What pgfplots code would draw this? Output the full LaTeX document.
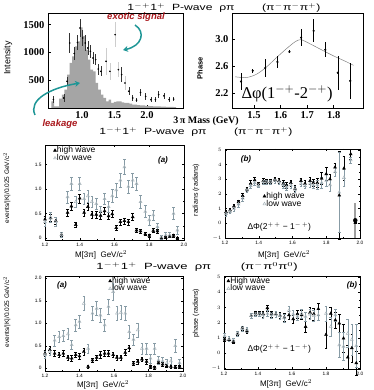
\documentclass[border=0pt]{standalone}
\usepackage{fontspec}
\setmainfont{Liberation Sans}
\newfontfamily\tnr{Liberation Serif}
\usepackage{graphicx}
\usepackage{pgfplots}
\usepackage{pgfplotstable}
\pgfplotsset{compat=1.18}
\usetikzlibrary{arrows.meta}

\definecolor{histgray}{RGB}{165,165,165}
\definecolor{lowgray}{RGB}{135,155,165}
\definecolor{lowmark}{RGB}{170,182,188}
\definecolor{exgray}{RGB}{205,205,205}
\definecolor{arrowteal}{RGB}{30,150,150}
\definecolor{sigred}{RGB}{170,25,30}

% leakage histogram, left bin edges (last row closes the interval)
\pgfplotstableread{
x    n
0.53 120
0.57 30
0.61 30
0.65 170
0.69 240
0.73 330
0.77 600
0.81 810
0.85 930
0.89 1110
0.93 1200
0.97 1450
1.01 1300
1.05 1050
1.09 870
1.13 690
1.17 660
1.21 450
1.25 330
1.29 240
1.33 180
1.37 120
1.41 150
1.45 90
1.49 110
1.53 120
1.57 120
1.61 100
1.65 90
1.69 90
1.73 80
1.77 60
1.81 60
1.85 50
1.89 45
1.93 45
1.97 40
2.01 40
2.05 35
2.09 30
2.13 30
2.17 30
2.21 25
2.25 25
2.29 20
2.33 20
2.37 20
2.41 15
2.45 0
}\histtab

% intensity points, dark error bars
\pgfplotstableread{
x    y    e
0.56 150  60
0.72 180  70
0.77 480  80
0.81 1170 180
0.88 980  120
0.93 1180 130
0.97 1440 160
1.01 1260 150
1.05 1170 140
1.09 1080 130
1.13 1020 120
1.17 900  110
1.21 870  100
1.25 700  100
1.29 660  90
1.61 600  140
1.72 300  70
1.78 180  50
1.84 140  40
1.90 280  60
1.98 210  60
2.06 150  40
2.13 150  40
2.18 240  60
2.26 220  50
2.34 150  40
2.41 160  40
}\intdark

% intensity points, light error bars (exotic signal)
\pgfplotstableread{
x    y    e
1.37 840  240
1.43 660  150
1.51 1320 230
1.56 690  130
1.66 450  130
}\intlight

% phase difference 1-+ vs 2-+
\pgfplotstableread{
x     y    e
1.451 2.37 0.12
1.495 2.53 0.03
1.542 2.57 0.13
1.588 2.66 0.09
1.633 2.81 0.02
1.677 3.02 0.13
1.724 3.12 0.17
1.768 2.84 0.11
1.815 2.50 0.25
1.862 2.38 0.27
}\phasetab

% (a) pi- pi- pi+
\pgfplotstableread{
m     hi   ehi  lo   elo
1.200 0.38 0.07 0.33 0.08
1.232 0.41 0.07 0.42 0.10
1.262 0.35 0.07 0.33 0.09
1.295 0.07 0.04 0.06 0.05
1.330 0.52 0.07 0.84 0.12
1.352 0.65 0.08 1.11 0.13
1.377 0.27 0.05 0.74 0.12
1.400 0.81 0.09 1.11 0.14
1.425 0.52 0.07 0.80 0.12
1.447 0.64 0.08 0.86 0.12
1.470 0.48 0.07 0.74 0.11
1.495 0.48 0.07 0.70 0.11
1.520 0.46 0.07 0.55 0.10
1.543 0.55 0.07 0.80 0.12
1.566 0.45 0.07 0.64 0.11
1.587 0.49 0.07 0.86 0.13
1.610 0.21 0.06 0.98 0.14
1.634 0.33 0.06 1.18 0.14
1.657 0.35 0.06 1.45 0.15
1.680 0.33 0.06 1.05 0.14
1.705 0.43 0.07 1.18 0.14
1.727 0.16 0.04 1.11 0.14
1.750 0.14 0.04 0.74 0.13
1.777 0.08 0.03 0.54 0.12
1.800 0.05 0.03 0.37 0.10
1.823 0.15 0.04 0.47 0.10
1.847 0.14 0.04 0.23 0.08
1.870 0.00 0.02 0.02 0.04
1.895 0.01 0.02 0.06 0.05
1.918 0.03 0.02 0.06 0.05
1.940 0.05 0.03 0.50 0.12
1.962 0.00 0.02 0.16 0.08
}\tabA

% (b) pi- pi- pi+
\pgfplotstableread{
m     hi   ehi  lo   elo
1.206 0.77 0.12 0.65 0.15
1.230 0.89 0.12 0.80 0.15
1.253 1.16 0.15 1.00 0.15
1.280 1.45 0.15 1.30 0.18
1.305 1.86 0.15 1.70 0.18
1.330 2.30 0.12 2.25 0.12
1.352 2.70 0.20 2.55 0.20
1.376 2.93 0.20 2.75 0.15
1.398 2.66 0.12 2.55 0.12
1.427 2.88 0.15 2.80 0.12
1.447 2.84 0.12 2.80 0.12
1.470 2.84 0.12 2.80 0.12
1.496 2.98 0.15 2.90 0.15
1.520 2.88 0.15 2.80 0.15
1.545 2.70 0.20 2.60 0.20
1.565 2.59 0.20 2.45 0.20
1.590 2.75 0.20 2.60 0.20
1.615 2.36 0.20 2.30 0.20
1.650 2.88 0.20 2.70 0.20
1.674 2.70 0.20 2.55 0.20
1.704 2.88 0.25 2.70 0.25
1.723 2.75 0.25 2.60 0.25
1.747 2.75 0.30 2.60 0.30
1.773 3.05 0.40 2.75 0.35
1.800 3.35 0.45 2.90 0.40
1.822 3.00 0.35 2.60 0.40
1.852 3.80 0.30 3.50 0.30
1.877 1.90 3.00 2.10 2.70
1.905 3.73 0.80 3.10 0.60
1.945 4.70 0.35 4.30 0.20
}\tabB

% (a) pi- pi0 pi0
\pgfplotstableread{
m     hi   ehi  lo   elo
1.200 0.33 0.07 0.30 0.08
1.228 0.41 0.07 0.37 0.08
1.256 0.33 0.07 0.62 0.12
1.282 0.30 0.06 0.70 0.12
1.306 0.33 0.06 0.72 0.12
1.333 0.24 0.06 0.76 0.12
1.355 0.22 0.06 0.52 0.10
1.378 0.30 0.06 0.96 0.14
1.400 0.27 0.06 1.04 0.14
1.425 0.37 0.07 1.44 0.16
1.450 0.04 0.03 0.44 0.10
1.475 0.18 0.05 1.22 0.15
1.500 0.24 0.06 1.33 0.15
1.521 0.30 0.07 1.18 0.15
1.546 0.33 0.07 0.96 0.14
1.568 0.33 0.07 1.37 0.16
1.595 0.30 0.06 1.70 0.18
1.617 0.24 0.06 1.22 0.16
1.640 0.24 0.06 1.24 0.16
1.665 0.35 0.07 1.22 0.16
1.688 0.45 0.07 0.81 0.14
1.713 0.11 0.04 0.64 0.12
1.738 0.15 0.05 0.85 0.15
1.762 0.20 0.05 0.44 0.12
1.789 0.15 0.05 0.44 0.12
1.812 0.04 0.03 0.22 0.10
1.836 0.02 0.03 0.44 0.12
1.858 0.12 0.04 0.18 0.08
1.882 0.09 0.04 0.16 0.08
1.906 0.05 0.03 0.12 0.07
1.930 0.04 0.03 0.16 0.08
1.955 0.03 0.03 0.50 0.14
1.980 0.04 0.03 0.12 0.07
}\tabC

% (b) pi- pi0 pi0
\pgfplotstableread{
m     hi    ehi  lo   elo
1.204 0.91  0.12 1.15 0.15
1.230 0.89  0.12 0.95 0.15
1.255 0.76  0.12 0.85 0.15
1.280 1.30  0.12 1.30 0.15
1.308 1.65  0.15 1.60 0.15
1.335 1.45  0.15 1.55 0.15
1.360 2.46  0.15 2.45 0.15
1.385 2.63  0.15 2.55 0.15
1.408 2.60  0.15 2.55 0.15
1.430 2.57  0.20 2.50 0.20
1.455 2.96  0.20 2.60 0.20
1.480 2.57  0.20 2.50 0.20
1.505 2.57  0.20 2.55 0.20
1.530 2.46  0.20 2.45 0.20
1.555 2.35  0.25 2.30 0.25
1.582 2.50  0.25 2.80 0.25
1.607 2.24  0.25 2.55 0.25
1.632 2.57  0.25 2.40 0.25
1.657 2.50  0.30 2.60 0.30
1.680 1.74  0.35 2.40 0.30
1.706 2.67  0.35 2.55 0.30
1.728 2.57  0.40 2.45 0.35
1.755 2.90  0.40 2.50 0.35
1.800 1.22  0.90 2.60 0.50
1.828 2.60  0.40 1.75 0.60
1.855 2.17  0.50 2.50 0.40
1.878 1.96  0.60 0.55 0.80
1.903 0.98  0.90 0.45 0.90
1.928 -0.26 0.80 1.30 0.90
1.952 0.35  0.90 0.90 1.00
1.978 -0.63 0.80 0.50 1.40
}\tabD

\pgfplotsset{
  toppanel/.style={
    scale only axis, anchor=south west, clip=false,
    axis line style={line width=0.9pt},
    tick align=inside, major tick length=2.5pt,
    xtick pos=left, ytick pos=left,
    tick style={line width=0.6pt, black},
    ticklabel style={font=\tnr\bfseries\fontsize{10.5}{11}\selectfont},
  },
  lowpanel/.style={
    scale only axis, anchor=south west, clip=false,
    xmin=1.2, xmax=2.0,
    xtick={1.2,1.4,1.6,1.8,2.0},
    xticklabels={1.2,1.4,1.6,1.8,2.0},
    minor x tick num=1, minor y tick num=1,
    tick align=inside, major tick length=2.2pt, minor tick length=1.2pt,
    axis line style={line width=0.5pt},
    tick style={line width=0.4pt, black},
    ticklabel style={font=\fontsize{4.8}{5}\selectfont},
    legend style={draw=none, fill=none, font=\fontsize{8.5}{8.5}\selectfont,
      inner sep=0pt, row sep=-1pt, nodes={inner sep=0.5pt}},
    legend cell align=left,
    legend image code/.code={\draw[mark repeat=2, mark phase=2, #1]
      plot coordinates {(0cm,0cm) (0.2cm,0cm) (0.45cm,0cm)};},
  },
  hiwave/.style={only marks, mark=triangle*, mark size=1.7pt, black,
    error bars/y dir=both, error bars/y explicit,
    error bars/error bar style={line width=0.5pt, black},
    error bars/error mark options={black, mark size=1.3pt, line width=0.5pt, rotate=90}},
  lowave/.style={only marks, mark=triangle, mark size=1.7pt, lowmark,
    mark options={line width=0.5pt},
    error bars/y dir=both, error bars/y explicit,
    error bars/error bar style={line width=0.5pt, lowgray},
    error bars/error mark options={lowgray, mark size=1.3pt, line width=0.5pt, rotate=90}},
}

\newcommand{\wavetitle}[2]{\scalebox{#1}[1]{1$^{-+}$1$^{+}$\ \ P-wave\ \ ρπ\qquad\ #2}}

\begin{document}
\begin{tikzpicture}[x=1pt,y=1pt]
\path[use as bounding box] (0,0) rectangle (373,-390);

% ---------- intensity with leakage ----------
\begin{axis}[toppanel,
  at={(48pt,-108pt)}, width=135pt, height=95pt,
  xmin=0.477, xmax=2.554, ymin=0, ymax=1710,
  xtick={1.0,1.5,2.0}, xticklabels={1.0,1.5,2.0},
  ytick={500,1000,1500}, yticklabels={500,1000,1500},
]
\addplot[ybar interval, fill=histgray, draw=none] table[x=x, y=n] {\histtab};
\addplot[only marks, mark=*, mark size=0.6pt, black,
  error bars/y dir=both, error bars/y explicit,
  error bars/error bar style={line width=0.6pt, exgray},
  error bars/error mark=none] table[x=x, y=y, y error=e] {\intlight};
\addplot[only marks, mark=*, mark size=0.6pt, black,
  error bars/y dir=both, error bars/y explicit,
  error bars/error bar style={line width=0.5pt, black!80},
  error bars/error mark=none] table[x=x, y=y, y error=e] {\intdark};
\end{axis}

% ---------- phase difference ----------
\begin{axis}[toppanel,
  at={(232pt,-108pt)}, width=131pt, height=95pt,
  xmin=1.417, xmax=1.91, ymin=1.978, ymax=3.385,
  xtick={1.5,1.6,1.7,1.8}, xticklabels={1.5,1.6,1.7,1.8},
  ytick={2.2,2.6,3.0}, yticklabels={2.2,2.6,3.0},
]
\addplot[gray, line width=0.5pt, smooth] coordinates {
  (1.429,2.44) (1.472,2.43) (1.510,2.48) (1.548,2.59) (1.586,2.73)
  (1.623,2.86) (1.655,2.96) (1.676,2.99) (1.705,2.94) (1.749,2.85)
  (1.799,2.75) (1.849,2.66) (1.874,2.61)};
\addplot[only marks, mark=*, mark size=0.9pt, black,
  error bars/y dir=both, error bars/y explicit,
  error bars/error bar style={line width=0.5pt, black},
  error bars/error mark=none] table[x=x, y=y, y error=e] {\phasetab};
\end{axis}

% ---------- (a) pi- pi- pi+ ----------
\begin{axis}[lowpanel,
  at={(45pt,-240pt)}, width=139pt, height=95pt,
  ymin=-0.04, ymax=1.9,
  ytick={0,0.5,1,1.5}, yticklabels={0,0.5,1.0,1.5},
  legend style={at={(0.06,0.99)}, anchor=north west},
]
\addplot[hiwave] table[x=m, y=hi, y error=ehi] {\tabA};
\addplot[lowave] table[x=m, y=lo, y error=elo] {\tabA};
\legend{high wave, low wave}
\end{axis}

% ---------- (b) pi- pi- pi+ ----------
\begin{axis}[lowpanel,
  at={(225pt,-238pt)}, width=135pt, height=89pt,
  ymin=-1, ymax=5.05,
  ytick={-1,0,1,2,3,4,5},
  legend style={at={(0.28,0.52)}, anchor=north west},
]
\addplot[forget plot, only marks, mark=none,
  error bars/y dir=both, error bars/y explicit,
  error bars/error bar style={line width=2.2pt, gray!75},
  error bars/error mark=none] coordinates {(1.972,0.2) +- (0,1.2)};
\addplot[hiwave] table[x=m, y=hi, y error=ehi] {\tabB};
\addplot[lowave] table[x=m, y=lo, y error=elo] {\tabB};
\addplot[hiwave, forget plot] coordinates {(1.972,0.05) +- (0,0.05)};
\legend{high wave, low wave}
\end{axis}

% ---------- (a) pi- pi0 pi0 ----------
\begin{axis}[lowpanel,
  at={(45pt,-371pt)}, width=138pt, height=95pt,
  ymin=-0.06, ymax=2.05,
  ytick={0,0.5,1,1.5,2}, yticklabels={0,0.5,1.0,1.5,2.0},
  legend style={at={(0.46,0.995)}, anchor=north west},
]
\addplot[hiwave] table[x=m, y=hi, y error=ehi] {\tabC};
\addplot[lowave] table[x=m, y=lo, y error=elo] {\tabC};
\legend{high wave, low wave}
\end{axis}

% ---------- (b) pi- pi0 pi0 ----------
\begin{axis}[lowpanel,
  at={(224pt,-369pt)}, width=136pt, height=93pt,
  ymin=-1.02, ymax=5.05,
  ytick={-1,0,1,2,3,4,5},
  legend style={at={(0.02,0.995)}, anchor=north west},
]
\addplot[hiwave] table[x=m, y=hi, y error=ehi] {\tabD};
\addplot[lowave] table[x=m, y=lo, y error=elo] {\tabD};
\legend{High wave, low wave}
\end{axis}

% ---------- texts ----------
\node[font=\fontsize{9}{9}\selectfont] at (224,-8)
  {\wavetitle{1.35}{(π$^{-}$π$^{-}$π$^{+}$)}};
\node[rotate=90, font=\fontsize{9}{9}\selectfont] at (8,-58) {Intensity};
\node[rotate=90, font=\bfseries\fontsize{7.5}{8}\selectfont] at (200,-68) {Phase};
\node[anchor=west, font=\tnr\fontsize{16.5}{17}\selectfont] at (238,-94)
  {Δφ(1$^{-+}$-2$^{-+}$)};
\node[font=\tnr\bfseries\fontsize{10}{10}\selectfont] at (206,-121) {3\,π Mass (GeV)};
\node[font=\fontsize{9}{9}\selectfont] at (196,-132)
  {\wavetitle{1.35}{(π$^{-}$π$^{-}$π$^{+}$)}};
\node[font=\fontsize{9}{9}\selectfont] at (197,-267)
  {\wavetitle{1.45}{(π$^{-}$π$^{0}$π$^{0}$)}};

\node[font=\bfseries\itshape\fontsize{9.5}{10}\selectfont, sigred] at (136,-17) {exotic signal};
\node[font=\bfseries\itshape\fontsize{9.5}{10}\selectfont, sigred] at (60,-124) {leakage};
\draw[arrowteal, line width=1.5pt, -{Stealth[length=5pt,width=6pt]}]
  (135,-25) .. controls (146,-32) and (142,-46) .. (123,-50);
\draw[arrowteal, line width=1.5pt, -{Stealth[length=5pt,width=6pt]}]
  (35,-115) .. controls (28,-100) and (50,-88) .. (80,-83);

\node[font=\bfseries\itshape\fontsize{8}{8}\selectfont] at (163,-160) {(a)};
\node[font=\bfseries\itshape\fontsize{8}{8}\selectfont] at (246,-159) {(b)};
\node[font=\bfseries\itshape\fontsize{8}{8}\selectfont] at (62,-285) {(a)};
\node[font=\bfseries\itshape\fontsize{8}{8}\selectfont] at (352,-285) {(b)};

\node[anchor=west, font=\fontsize{8.5}{9}\selectfont] at (244,-227) {ΔΦ(2$^{+\,+}$ − 1$^{-\,+}$)};
\node[anchor=west, font=\fontsize{8.5}{9}\selectfont] at (244,-349) {ΔΦ(2$^{+\,+}$ − 1$^{-\,+}$)};

\node[font=\fontsize{8}{8}\selectfont] at (101,-255) {M[3π]\ \ GeV/c$^2$};
\node[font=\fontsize{8}{8}\selectfont] at (284,-255) {M[3π]\ \ GeV/c$^2$};
\node[font=\fontsize{8}{8}\selectfont] at (103,-385) {M[3π]\ \ GeV/c$^2$};
\node[font=\fontsize{8}{8}\selectfont] at (286,-384) {M[3π]\ \ GeV/c$^2$};

\node[rotate=90, font=\fontsize{6.5}{7}\selectfont] at (7,-188) {events/|K|/0.025 GeV/c$^2$};
\node[rotate=90, font=\fontsize{6.5}{7}\selectfont] at (7,-312) {events/|K|/0.025 GeV/c$^2$};
\node[rotate=90, font=\fontsize{7}{7}\selectfont] at (196,-190) {radians (radians)};
\node[rotate=90, font=\fontsize{7}{7}\selectfont] at (196,-313) {phase (radians)};
\end{tikzpicture}
\end{document}
